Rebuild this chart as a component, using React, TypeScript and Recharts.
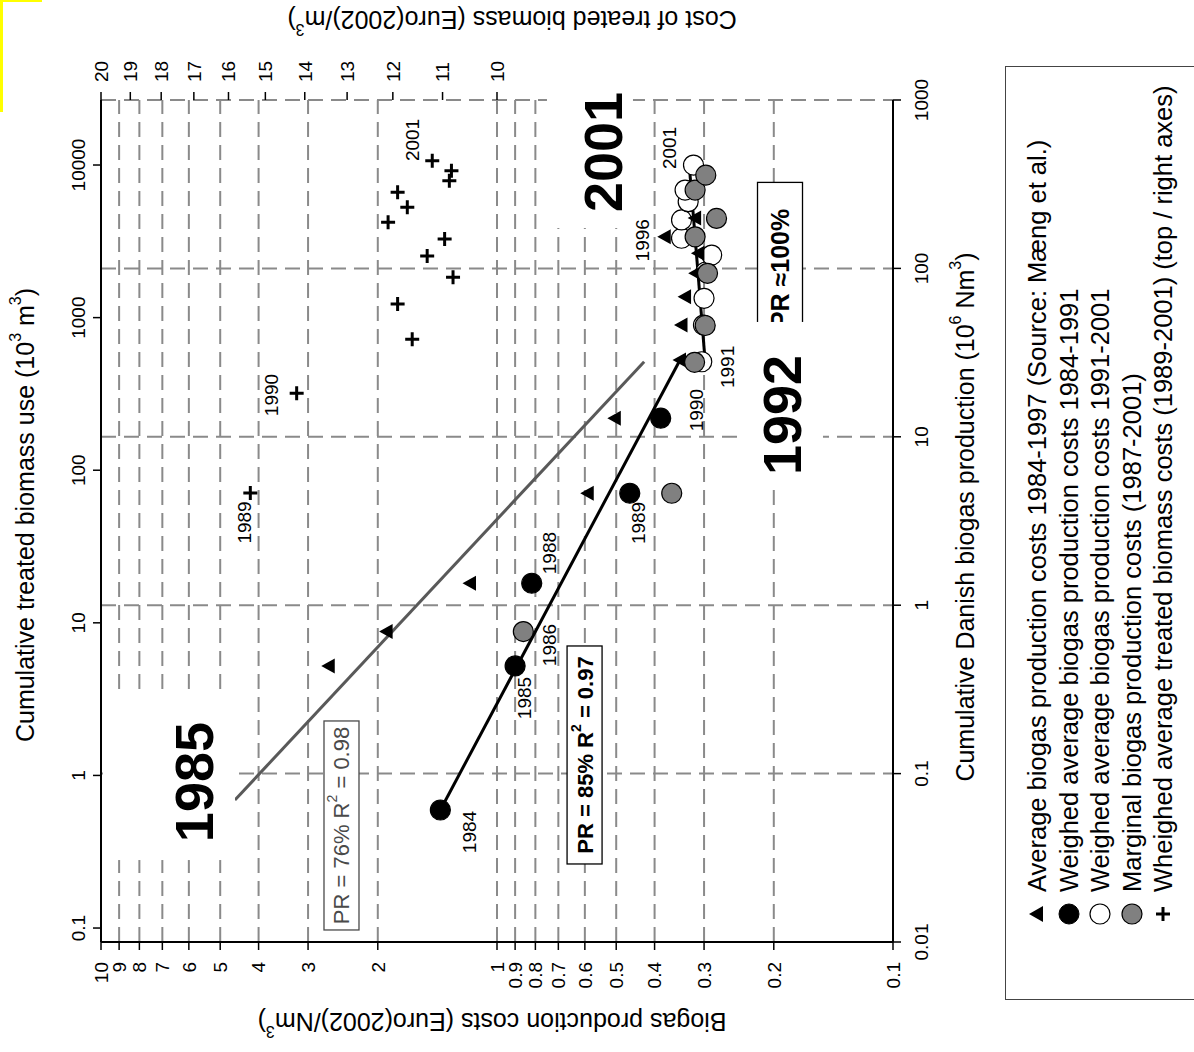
import React from "react";
import { ComposedChart, Scatter, XAxis, YAxis, CartesianGrid, ReferenceDot } from "recharts";

const FONT = '"Liberation Sans", Arial, Helvetica, sans-serif';

// the chart is drawn upright, then the whole frame is turned a quarter turn left
const W = 1052;
const H = 1194;

const productionTicks = [0.01, 0.1, 1, 10, 100, 1000];
const costTicks = [0.1, 0.2, 0.3, 0.4, 0.5, 0.6, 0.7, 0.8, 0.9, 1, 2, 3, 4, 5, 6, 7, 8, 9, 10];
const biomassTicks = [0.1, 1, 10, 100, 1000, 10000];
const biomassCostTicks = [10, 11, 12, 13, 14, 15, 16, 17, 18, 19, 20];

// Average biogas production costs 1984-1997 (Mæng et al.)
const avgProduction = [0.436, 0.697, 1.35, 4.62, 12.9, 28.6, 46.1, 67.9, 93.5, 123, 154, 199];
const avgCost = [2.66, 1.9, 1.17, 0.59, 0.504, 0.345, 0.342, 0.335, 0.315, 0.31, 0.377, 0.316];

// Weighed average biogas production costs 1984-1991
const earlyProduction = [0.0608, 0.436, 1.35, 4.62, 12.9];
const earlyCost = [1.39, 0.9, 0.817, 0.462, 0.386];

// Weighed average biogas production costs 1991-2001
const lateProduction = [27.9, 46.1, 66.4, 95.2, 120, 151, 194, 249, 292, 411];
const lateCost = [0.304, 0.301, 0.3, 0.297, 0.287, 0.342, 0.342, 0.329, 0.335, 0.319];

// Marginal biogas production costs 1987-2001
const marginalProduction = [0.697, 4.62, 27.7, 45.8, 93.5, 154, 198, 292, 358];
const marginalCost = [0.858, 0.362, 0.317, 0.298, 0.294, 0.316, 0.279, 0.316, 0.297];

// Wheighed average treated biomass costs 1989-2001 (top / right axes)
const biomassUse = [71, 319, 721, 1228, 1837, 2535, 3274, 4215, 5284, 6622, 7889, 9180, 10670];
const biomassCost = [15.4, 14.2, 11.6, 11.9, 10.8, 11.3, 10.96, 12.1, 11.7, 11.9, 10.87, 10.83, 11.2];

// fitted experience curves (end points)
const pr76Production = [0.0697, 27.9];
const pr76Cost = [4.59, 0.425];
const pr85Production = [0.0608, 28.6];
const pr85Cost = [1.39, 0.345];
const pr100Production = [27.9, 411];
const pr100Cost = [0.298, 0.327];

const legendLabels = [
  "Average biogas production costs 1984-1997 (Source: Mæng et al.)",
  "Weighed average biogas production costs 1984-1991",
  "Weighed average biogas production costs 1991-2001",
  "Marginal biogas production costs (1987-2001)",
  "Wheighed average treated biomass costs (1989-2001) (top / right axes)",
];

// year notes: text, production, cost
const yearNotes: [string, number, number][] = [
  ["1984", 0.045, 1.17],
  ["1985", 0.281, 0.85],
  ["1986", 0.58, 0.735],
  ["1988", 2.04, 0.735],
  ["1989", 3.08, 0.438],
  ["1990", 14.4, 0.3126],
  ["1991", 26.0, 0.2625],
  ["1996", 147, 0.428],
  ["2001", 519, 0.366],
  ["1989", 3.1, 4.33],
  ["1990", 17.7, 3.7],
  ["2001", 579, 1.63],
];

const zip = (xs: number[], ys: number[]) => xs.map((x, i) => ({ x, y: ys[i] }));

type Piece = { t: string; sup?: boolean };

function Rich({ pieces, size }: { pieces: Piece[]; size: number }) {
  let raised = false;
  const lift = Math.round(size * 0.4);
  return (
    <>
      {pieces.map((p, i) => {
        let dy = 0;
        if (p.sup && !raised) {
          dy = -lift;
          raised = true;
        } else if (!p.sup && raised) {
          dy = lift;
          raised = false;
        }
        return (
          <tspan key={i} dy={dy || undefined} fontSize={p.sup ? Math.round(size * 0.62) : size}>
            {p.t}
          </tspan>
        );
      })}
    </>
  );
}

const Triangle = (p: any) => (
  <polygon
    points={`${p.cx},${p.cy - 7.5} ${p.cx - 7.5},${p.cy + 6} ${p.cx + 7.5},${p.cy + 6}`}
    fill="#000"
  />
);
const Disc = (fill: string) => (p: any) => (
  <circle cx={p.cx} cy={p.cy} r={10} fill={fill} stroke="#000" strokeWidth={1.2} />
);
const Cross = (p: any) => (
  <path
    d={`M${p.cx - 7},${p.cy}H${p.cx + 7}M${p.cx},${p.cy - 7}V${p.cy + 7}`}
    stroke="#000"
    strokeWidth={3}
  />
);
const Empty = () => <g />;

const tickStyle = { fontSize: 19, fill: "#000", fontFamily: FONT };
const axisLine = { stroke: "#000", strokeWidth: 2 };
const tickLine = { stroke: "#000", strokeWidth: 1.5 };

function YearNote(text: string) {
  return (p: any) => (
    <text
      x={p.cx}
      y={p.cy}
      textAnchor="middle"
      dominantBaseline="central"
      fontSize={19}
      fontFamily={FONT}
      fill="#000"
    >
      {text}
    </text>
  );
}

function BigNote(text: string, box: [number, number, number, number]) {
  return (p: any) => (
    <g>
      <rect x={p.cx + box[0]} y={p.cy + box[1]} width={box[2] - box[0]} height={box[3] - box[1]} fill="#fff" />
      <text
        x={p.cx}
        y={p.cy}
        textAnchor="middle"
        dominantBaseline="central"
        fontSize={54}
        fontWeight="bold"
        fontFamily={FONT}
        fill="#000"
      >
        {text}
      </text>
    </g>
  );
}

function BoxNote(pieces: Piece[], w: number, h: number, color: string, bold: boolean, size = 22, shift = 0) {
  return (p: any) => (
    <g>
      <rect x={p.cx - w / 2 + shift} y={p.cy - h / 2} width={w} height={h} fill="#fff" stroke={color} strokeWidth={1.3} />
      <text
        x={p.cx}
        y={p.cy}
        textAnchor="middle"
        dominantBaseline="central"
        fontFamily={FONT}
        fontWeight={bold ? "bold" : "normal"}
        fill={color}
      >
        <Rich pieces={pieces} size={size} />
      </text>
    </g>
  );
}

const titleText = (x: number, y: number, pieces: Piece[], rotate = 0) => (
  <text
    x={x}
    y={y}
    textAnchor="middle"
    dominantBaseline="central"
    fontFamily={FONT}
    fill="#000"
    transform={rotate ? `rotate(${rotate}, ${x}, ${y})` : undefined}
  >
    <Rich pieces={pieces} size={25} />
  </text>
);

const productionTitle = (props: any) => {
  const vb = props.viewBox;
  return titleText(vb.x + vb.width / 2 + 4, vb.y + 72, [
    { t: "Cumulative Danish biogas production (10" },
    { t: "6", sup: true },
    { t: " Nm" },
    { t: "3", sup: true },
    { t: ")" },
  ]);
};
const biomassTitle = (props: any) => {
  const vb = props.viewBox;
  return titleText(vb.x + vb.width / 2 + 6, 25, [
    { t: "Cumulative treated biomass use (10" },
    { t: "3", sup: true },
    { t: " m" },
    { t: "3", sup: true },
    { t: ")" },
  ]);
};
const costTitle = (props: any) => {
  const vb = props.viewBox;
  return titleText(30, vb.y + vb.height / 2 - 5, [
    { t: "Biogas production costs (Euro(2002)/Nm" },
    { t: "3", sup: true },
    { t: ")" },
  ], -90);
};
const biomassCostTitle = (props: any) => {
  const vb = props.viewBox;
  return titleText(vb.x + 80, vb.y + vb.height / 2 + 15, [
    { t: "Cost of treated biomass (Euro(2002)/m" },
    { t: "3", sup: true },
    { t: ")" },
  ], -90);
};

function LegendMarker({ i }: { i: number }) {
  return (
    <svg width={30} height={30} style={{ position: "absolute", left: 70, top: 0 }}>
      {i === 0 && <polygon points="15,7 7,21 23,21" fill="#000" />}
      {i === 1 && <circle cx={15} cy={15} r={10} fill="#000" stroke="#000" />}
      {i === 2 && <circle cx={15} cy={15} r={10} fill="#fff" stroke="#000" strokeWidth={1.2} />}
      {i === 3 && <circle cx={15} cy={15} r={10} fill="#808080" stroke="#000" strokeWidth={1.2} />}
      {i === 4 && <path d="M8,15H22M15,8V22" stroke="#000" strokeWidth={3} />}
    </svg>
  );
}

function Chart() {
  return (
    <ComposedChart width={W} height={H} margin={{ top: 0, right: 0, bottom: 211, left: 0 }}>
      <CartesianGrid
        xAxisId="prod"
        yAxisId="cost"
        stroke="#8a8a8a"
        strokeWidth={2}
        strokeDasharray="15 8"
      />
      <XAxis
        xAxisId="prod"
        type="number"
        dataKey="x"
        scale="log"
        domain={[0.01, 1000]}
        ticks={productionTicks}
        allowDataOverflow
        interval={0}
        height={90}
        tickSize={8}
        tickMargin={14}
        axisLine={axisLine}
        tickLine={tickLine}
        tick={tickStyle}
        label={productionTitle}
      />
      <XAxis
        xAxisId="bio"
        orientation="top"
        type="number"
        dataKey="x"
        scale="log"
        domain={[0.081, 26670]}
        ticks={biomassTicks}
        allowDataOverflow
        interval={0}
        height={101}
        tickSize={8}
        tickMargin={8}
        axisLine={axisLine}
        tickLine={tickLine}
        tick={tickStyle}
        label={biomassTitle}
      />
      <YAxis
        yAxisId="cost"
        type="number"
        dataKey="y"
        scale="log"
        domain={[0.1, 10]}
        ticks={costTicks}
        allowDataOverflow
        interval={0}
        width={110}
        tickSize={8}
        tickMargin={12}
        axisLine={axisLine}
        tickLine={tickLine}
        tick={tickStyle}
        label={costTitle}
      />
      <YAxis
        yAxisId="tc"
        orientation="right"
        type="number"
        dataKey="y"
        scale="log"
        domain={[5, 20]}
        ticks={biomassCostTicks}
        allowDataOverflow
        interval={0}
        width={100}
        tickSize={8}
        tickMargin={10}
        axisLine={false}
        tickLine={tickLine}
        tick={tickStyle}
        label={biomassCostTitle}
      />

      <Scatter
        xAxisId="prod"
        yAxisId="cost"
        data={zip(pr76Production, pr76Cost)}
        line={{ stroke: "#595959", strokeWidth: 3 }}
        shape={Empty}
        isAnimationActive={false}
      />
      <Scatter
        xAxisId="prod"
        yAxisId="cost"
        data={zip(pr85Production, pr85Cost)}
        line={{ stroke: "#000", strokeWidth: 3 }}
        shape={Empty}
        isAnimationActive={false}
      />
      <Scatter
        xAxisId="prod"
        yAxisId="cost"
        data={zip(pr100Production, pr100Cost)}
        line={{ stroke: "#000", strokeWidth: 3 }}
        shape={Empty}
        isAnimationActive={false}
      />

      <Scatter
        xAxisId="bio"
        yAxisId="tc"
        data={zip(biomassUse, biomassCost)}
        shape={Cross}
        isAnimationActive={false}
      />
      <Scatter
        xAxisId="prod"
        yAxisId="cost"
        data={zip(lateProduction, lateCost)}
        shape={Disc("#fff")}
        isAnimationActive={false}
      />
      <Scatter
        xAxisId="prod"
        yAxisId="cost"
        data={zip(avgProduction, avgCost)}
        shape={Triangle}
        isAnimationActive={false}
      />
      <Scatter
        xAxisId="prod"
        yAxisId="cost"
        data={zip(marginalProduction, marginalCost)}
        shape={Disc("#808080")}
        isAnimationActive={false}
      />
      <Scatter
        xAxisId="prod"
        yAxisId="cost"
        data={zip(earlyProduction, earlyCost)}
        shape={Disc("#000")}
        isAnimationActive={false}
      />

      {yearNotes.map(([t, x, y], i) => (
        <ReferenceDot key={"y" + i} xAxisId="prod" yAxisId="cost" x={x} y={y} r={0} shape={YearNote(t)} />
      ))}

      <ReferenceDot
        xAxisId="prod"
        yAxisId="cost"
        x={0.0492}
        y={2.47}
        r={0}
        shape={BoxNote(
          [{ t: "PR = 76% R" }, { t: "2", sup: true }, { t: " = 0.98" }],
          209,
          35,
          "#4a4a4a",
          false
        )}
      />
      <ReferenceDot
        xAxisId="prod"
        yAxisId="cost"
        x={0.129}
        y={0.601}
        r={0}
        shape={BoxNote(
          [{ t: "PR = 85% R" }, { t: "2", sup: true }, { t: " = 0.97" }],
          218,
          35,
          "#000",
          true
        )}
      />
      <ReferenceDot
        xAxisId="prod"
        yAxisId="cost"
        x={100}
        y={0.1929}
        r={0}
        shape={BoxNote([{ t: "PR ≈100%" }], 164, 45, "#000", true, 25, 4)}
      />
      <ReferenceDot
        xAxisId="prod"
        yAxisId="cost"
        x={0.0891}
        y={5.824}
        r={0}
        shape={BigNote("1985", [-78, -91, 92, 41])}
      />
      <ReferenceDot
        xAxisId="prod"
        yAxisId="cost"
        x={13.48}
        y={0.1907}
        r={0}
        shape={BigNote("1992", [-75, -44, 93, 41])}
      />
      <ReferenceDot
        xAxisId="prod"
        yAxisId="cost"
        x={491}
        y={0.54}
        r={0}
        shape={BigNote("2001", [-76, -56, 57, 30])}
      />
    </ComposedChart>
  );
}

export default function App() {
  return (
    <div
      style={{
        position: "absolute",
        left: 0,
        top: 0,
        width: 1194,
        height: 1052,
        overflow: "hidden",
        background: "#fff",
      }}
    >
      <div
        style={{
          position: "absolute",
          left: 0,
          top: 0,
          width: 42,
          height: 112,
          borderLeft: "3px solid #ffff00",
          borderTop: "2px solid #ffff00",
          boxSizing: "border-box",
        }}
      />
      <div
        style={{
          position: "absolute",
          left: 0,
          top: 0,
          width: W,
          height: H,
          transformOrigin: "0 0",
          transform: `translate(0px, ${W}px) rotate(-90deg)`,
        }}
      >
        <Chart />
        <div
          style={{
            position: "absolute",
            left: 52,
            top: 1005,
            width: 932,
            height: 230,
            border: "1px solid #444",
            background: "#fff",
            fontFamily: FONT,
            fontSize: 25.5,
            color: "#000",
          }}
        >
          {legendLabels.map((label, i) => (
            <div
              key={i}
              style={{
                position: "absolute",
                left: 0,
                top: 16 + i * 31.6,
                height: 30,
                width: 930,
              }}
            >
              <LegendMarker i={i} />
              <span
                style={{
                  position: "absolute",
                  left: 107,
                  top: 0,
                  lineHeight: "30px",
                  whiteSpace: "nowrap",
                }}
              >
                {label}
              </span>
            </div>
          ))}
        </div>
      </div>
    </div>
  );
}
